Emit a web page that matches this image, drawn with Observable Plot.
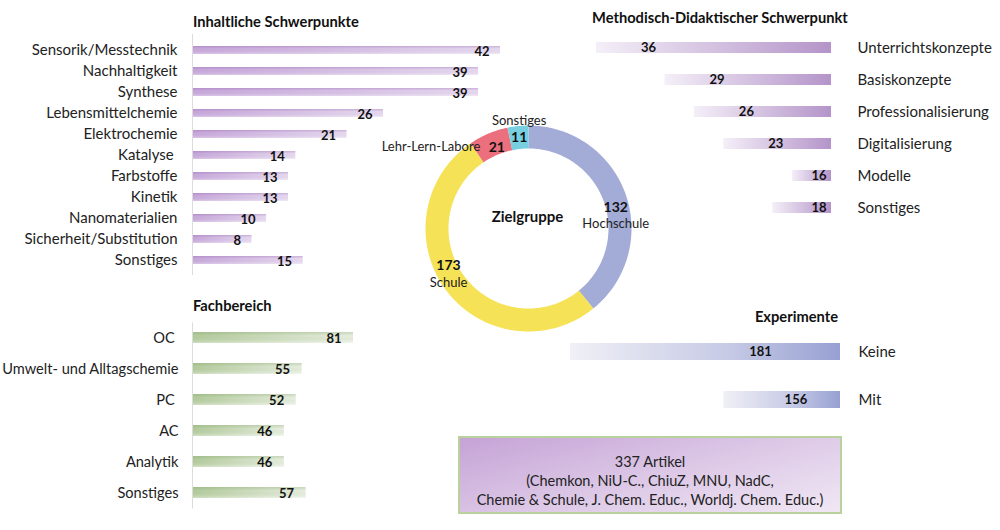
<!DOCTYPE html>
<html><head><meta charset="utf-8">
<script src="https://cdn.jsdelivr.net/npm/d3@7"></script>
<script src="https://cdn.jsdelivr.net/npm/@observablehq/plot@0.6"></script>
<style>
body{margin:0;background:#fff;font-family:Lato,sans-serif;}
#root{position:relative;width:1000px;height:530px;overflow:hidden;background:#fff;}
.panel{position:absolute;}
.title{position:absolute;font-weight:700;font-size:14.7px;color:#111;white-space:nowrap;line-height:16px;}
#box{position:absolute;left:458px;top:436px;width:380px;height:74px;border:2px solid #b9d19c;
 background:linear-gradient(165deg,#c5a3d6 0%,#dcc7e6 50%,#f0e7f4 100%);
 text-align:center;font-size:14.5px;line-height:19px;color:#222;box-sizing:content-box;}
#box .inner{padding-top:14px;}
</style></head><body>
<svg width="0" height="0" style="position:absolute">
<defs>
<linearGradient id="gPurpleH" x1="0" y1="0" x2="1" y2="0"><stop offset="0" stop-color="#c9abdc"/><stop offset="1" stop-color="#ebe1f3"/></linearGradient>
<linearGradient id="gShadeV" x1="0" y1="0" x2="0" y2="1"><stop offset="0" stop-color="#8c5aa8" stop-opacity="0.35"/><stop offset="0.35" stop-color="#8c5aa8" stop-opacity="0.05"/><stop offset="1" stop-color="#ffffff" stop-opacity="0.3"/></linearGradient>
<linearGradient id="gShadeVG" x1="0" y1="0" x2="0" y2="1"><stop offset="0" stop-color="#6f9450" stop-opacity="0.3"/><stop offset="0.35" stop-color="#6f9450" stop-opacity="0.05"/><stop offset="1" stop-color="#ffffff" stop-opacity="0.35"/></linearGradient>
<linearGradient id="gPurpleM" x1="0" y1="0" x2="1" y2="0"><stop offset="0" stop-color="#f4eff8"/><stop offset="1" stop-color="#b494c9"/></linearGradient>
<linearGradient id="gGreenH" x1="0" y1="0" x2="1" y2="0"><stop offset="0" stop-color="#b6cda0"/><stop offset="1" stop-color="#eef3e8"/></linearGradient>
<linearGradient id="gBlueE" x1="0" y1="0" x2="1" y2="0"><stop offset="0" stop-color="#f0f0f6"/><stop offset="0.6" stop-color="#c5c9e5"/><stop offset="1" stop-color="#97a0d2"/></linearGradient>
</defs></svg>
<div id="root"></div>
<script>
// ---------- data ----------
const contentCats = ["Sensorik/Messtechnik","Nachhaltigkeit","Synthese","Lebensmittelchemie","Elektrochemie","Katalyse\u00a0","Farbstoffe","Kinetik","Nanomaterialien","Sicherheit/Substitution","Sonstiges"];
const contentVals = [42,39,39,26,21,14,13,13,10,8,15];

const methodCats = ["Unterrichtskonzepte","Basiskonzepte","Professionalisierung","Digitalisierung","Modelle","Sonstiges"];
const methodVals = [36,29,26,23,16,18];

const fieldCats = ["OC\u00a0","Umwelt- und Alltagschemie","PC\u00a0","AC","Analytik","Sonstiges"];
const fieldVals = [81,55,52,46,46,57];

const targetCats = ["Hochschule","Schule","Lehr-Lern-Labore","Sonstiges"];
const targetVals = [132,173,21,11];
const targetColors = ["#a3abd7","#f6e256","#eb6f7c","#78cfe0"];

const expCats = ["Keine","Mit"];
const expVals = [181,156];

const titles = ["Inhaltliche Schwerpunkte","Methodisch-Didaktischer Schwerpunkt","Fachbereich","Experimente","Zielgruppe"];
const boxLines = ["337 Artikel","(Chemkon, NiU-C., ChiuZ, MNU, NadC,","Chemie & Schule, J. Chem. Educ., Worldj. Chem. Educ.)"];

// ---------- helpers ----------
const root = document.getElementById("root");
function place(el, left, top){ el.classList.add("panel"); el.style.left = left+"px"; el.style.top = top+"px"; root.appendChild(el); }
function title(text, left, top, right){
  const d = document.createElement("div"); d.className = "title"; d.textContent = text;
  if (right) { d.style.right = (1000-left)+"px"; } else { d.style.left = left+"px"; }
  d.style.top = top+"px"; root.appendChild(d);
}
const baseStyle = {fontFamily:"Lato, sans-serif", fontSize:"15px", color:"#222", background:"transparent", overflow:"visible"};
const numStyle = {fontWeight:700, fontSize:13, fill:"#111"};
const zip = (c, v) => c.map((cat,i)=>({cat, val:v[i]}));

// ---------- Inhaltliche Schwerpunkte ----------
const contentData = zip(contentCats, contentVals);
place(Plot.plot({
  width:520, height:280, marginTop:34, marginBottom:5, marginLeft:193, marginRight:20,
  style: baseStyle,
  x:{domain:[0,42], axis:null},
  y:{domain:contentCats, paddingInner:0.635, paddingOuter:0.3175, tickSize:0, tickPadding:16, label:null},
  marks:[
    Plot.ruleX([0], {stroke:"#dcdcdc", dx:-1}),
    Plot.barX(contentData, {y:"cat", x:"val", fill:"url(#gPurpleH)"}),
    Plot.barX(contentData, {y:"cat", x:"val", fill:"url(#gShadeV)"}),
    Plot.text(contentData, {y:"cat", x:"val", text:d=>String(d.val), textAnchor:"end", dx:-11, dy:1, ...numStyle})
  ]
}), 0, 0);
title(titles[0], 193, 13);

// ---------- Methodisch-Didaktischer Schwerpunkt ----------
const methodData = zip(methodCats, methodVals);
const methodMin = 12;
place(Plot.plot({
  width:440, height:230, marginTop:31, marginBottom:6, marginLeft:36, marginRight:169,
  style: baseStyle,
  x:{domain:[methodMin,36], reverse:true, clamp:true, axis:null},
  y:{domain:methodCats, axis:"right", paddingInner:0.67, paddingOuter:0.335, tickSize:0, tickPadding:26, label:null},
  marks:[
    Plot.barX(methodData, {y:"cat", x:"val", fill:"url(#gPurpleM)"}),
    Plot.text(methodData.filter(d=>d.val>=20), {y:"cat", x:"val", text:d=>String(d.val), textAnchor:"middle", dx:52, dy:0, ...numStyle}),
    Plot.text(methodData.filter(d=>d.val<20), {y:"cat", x:()=>methodMin, text:d=>String(d.val), textAnchor:"end", dx:-5, dy:0, ...numStyle})
  ]
}), 560, 0);
title(titles[1], 592, 9);

// ---------- Fachbereich ----------
const fieldData = zip(fieldCats, fieldVals);
place(Plot.plot({
  width:520, height:225, marginTop:32.5, marginBottom:6.5, marginLeft:193, marginRight:167,
  style: {...baseStyle, fontSize:"14.6px"},
  x:{domain:[0,81], axis:null},
  y:{domain:fieldCats, paddingInner:0.645, paddingOuter:0.3225, tickSize:0, tickPadding:15, label:null},
  marks:[
    Plot.ruleX([0], {stroke:"#dcdcdc", dx:-1}),
    Plot.barX(fieldData, {y:"cat", x:"val", fill:"url(#gGreenH)"}),
    Plot.barX(fieldData, {y:"cat", x:"val", fill:"url(#gShadeVG)"}),
    Plot.text(fieldData, {y:"cat", x:"val", text:d=>String(d.val), textAnchor:"end", dx:-12, dy:1, ...numStyle})
  ]
}), 0, 290);
title(titles[2], 193, 297);

// ---------- Experimente ----------
const expData = zip(expCats, expVals);
const expLabelDx = {Keine:190, Mit:72};
place(Plot.plot({
  width:450, height:140, marginTop:28, marginBottom:16, marginLeft:20, marginRight:160,
  style: baseStyle,
  x:{domain:[137,181], reverse:true, clamp:true, axis:null},
  y:{domain:expCats, axis:"right", paddingInner:0.645, paddingOuter:0.3225, tickSize:0, tickPadding:18, label:null},
  marks:[
    Plot.barX(expData, {y:"cat", x:"val", fill:"url(#gBlueE)"}),
    ...expData.map(d => Plot.text([d], {y:"cat", x:"val", text:e=>String(e.val), textAnchor:"middle", dx:expLabelDx[d.cat], dy:0, ...numStyle}))
  ]
}), 550, 300);
title(titles[3], 838, 308, true);

// ---------- Zielgruppe (donut) ----------
const total = d3.sum(targetVals);
let acc = 0;
const slices = targetCats.map((name,i) => {
  const a0 = acc/total*2*Math.PI; acc += targetVals[i]; const a1 = acc/total*2*Math.PI;
  const mid = (a0+a1)/2;
  return {name, value:targetVals[i], a0, a1, x:Math.sin(mid), y:Math.cos(mid)};
});
const ringPts = slices.flatMap(s => {
  const n = Math.max(2, Math.ceil((s.a1-s.a0)/(Math.PI/180))+1);
  return d3.range(n).map(k => { const a = s.a0+(s.a1-s.a0)*k/(n-1); return {name:s.name, x:Math.sin(a), y:Math.cos(a)}; });
});
const labelStyle = {
  "Hochschule":       {num:[1,9.5], name:[1,25.5,"middle"]},
  "Schule":           {num:[-6.5,-17.5], name:[-6.5,-0.5,"middle"]},
  "Lehr-Lern-Labore": {num:[4,3], name:[-12.5,3,"end"]},
  "Sonstiges":        {num:[0,0], name:[0,-17,"middle"]}
};
const R = 91.5;
place(Plot.plot({
  width:400, height:260, margin:0,
  style: baseStyle,
  x:{domain:[-1,1], range:[200-R, 200+R], axis:null},
  y:{domain:[-1,1], range:[130+R, 130-R], axis:null},
  color:{domain:targetCats, range:targetColors},
  marks:[
    Plot.line(ringPts, {x:"x", y:"y", z:"name", stroke:"name", strokeWidth:23, strokeLinecap:"butt", strokeLinejoin:"round"}),
    ...slices.flatMap(s => {
      const st = labelStyle[s.name];
      return [
        Plot.text([s], {x:"x", y:"y", text:d=>String(d.value), dx:st.num[0], dy:st.num[1], fontWeight:700, fontSize:14, fill:"#111"}),
        Plot.text([s], {x:"x", y:"y", text:d=>d.name, dx:st.name[0], dy:st.name[1], textAnchor:st.name[2], fontSize:13, fill:"#222"})
      ];
    }),
    Plot.text([titles[4]], {text:d=>d, frameAnchor:"middle", dx:-1, dy:-11, fontWeight:700, fontSize:15, fill:"#111"})
  ]
}), 328, 98);

// ---------- box ----------
const box = document.createElement("div"); box.id = "box";
const inner = document.createElement("div"); inner.className = "inner";
boxLines.forEach(l => { const p = document.createElement("div"); p.textContent = l; inner.appendChild(p); });
box.appendChild(inner); root.appendChild(box);
</script></body></html>
